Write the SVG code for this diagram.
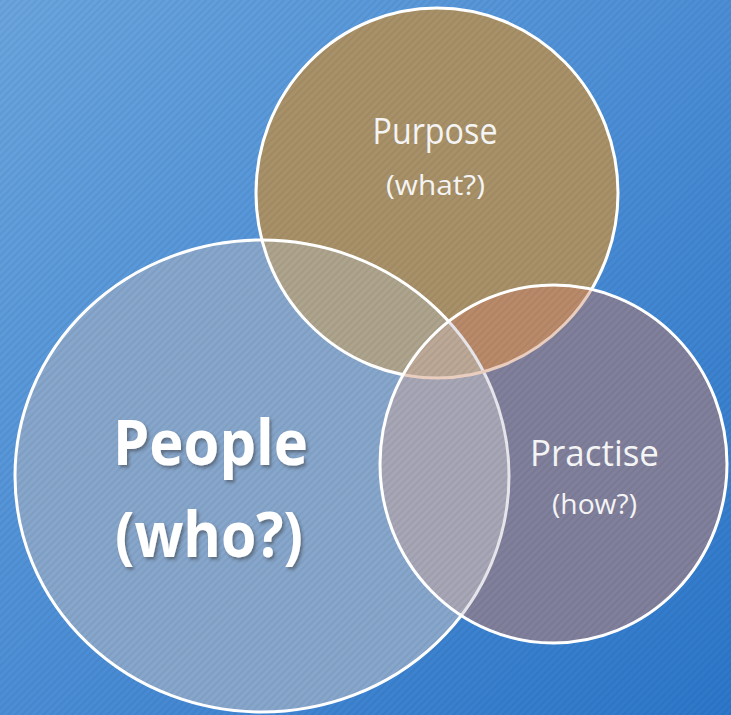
<svg xmlns="http://www.w3.org/2000/svg" width="731" height="715" viewBox="0 0 731 715">
  <defs>
    <linearGradient id="bg" x1="0" y1="0" x2="1" y2="1">
      <stop offset="0" stop-color="#6AA5DE"/>
      <stop offset="0.5" stop-color="#4C8ED6"/>
      <stop offset="1" stop-color="#2C77CA"/>
    </linearGradient>
    <pattern id="stripes" patternUnits="userSpaceOnUse" width="5" height="5" patternTransform="rotate(45)">
      <rect x="0" y="0" width="2" height="5" fill="#000" fill-opacity="0.05"/>
    </pattern>
    <ellipse id="shPeople" cx="262" cy="476" rx="247" ry="236"/>
    <ellipse id="shPurpose" cx="437" cy="193" rx="181" ry="185"/>
    <ellipse id="shPractise" cx="553.5" cy="464" rx="173.5" ry="179"/>
    <clipPath id="cpPeople"><use href="#shPeople"/></clipPath>
    <clipPath id="cpPurpose"><use href="#shPurpose"/></clipPath>
    <clipPath id="cpPractise"><use href="#shPractise"/></clipPath>
    <mask id="mOutPractise" maskUnits="userSpaceOnUse" x="0" y="0" width="731" height="715">
      <rect x="0" y="0" width="731" height="715" fill="#fff"/>
      <use href="#shPractise" fill="#000"/>
    </mask>
    <filter id="shadow" x="-10%" y="-10%" width="130%" height="140%">
      <feDropShadow dx="2" dy="2.5" stdDeviation="1.5" flood-color="#2a2a2a" flood-opacity="0.45"/>
    </filter>
    <style>
      .outline { fill: none; stroke: #fff; stroke-width: 3; }
      .lbl { font-family: "Open Sans", "Lato", sans-serif; fill: #F4F4F4; text-anchor: middle; }
      .big { font-family: "Open Sans", "Lato", sans-serif; font-weight: bold; fill: #FFFFFF; text-anchor: middle; font-size: 63px; filter: url(#shadow); }
    </style>
  </defs>

  <g id="background">
    <rect x="0" y="0" width="731" height="715" fill="url(#bg)"/>
  </g>

  <g id="regions">
    <use href="#shPeople" fill="#87A6CB"/>
    <use href="#shPurpose" fill="#A89168"/>
    <use href="#shPractise" fill="#80809C"/>
    <g clip-path="url(#cpPeople)"><use href="#shPurpose" fill="#AEA48D"/></g>
    <g clip-path="url(#cpPurpose)"><use href="#shPractise" fill="#B98A6A"/></g>
    <g clip-path="url(#cpPeople)"><use href="#shPractise" fill="#A6A6B6"/></g>
    <g clip-path="url(#cpPeople)"><g clip-path="url(#cpPurpose)"><use href="#shPractise" fill="#BCA896"/></g></g>
  </g>

  <rect id="texture" x="0" y="0" width="731" height="715" fill="url(#stripes)"/>

  <g id="connectors"/>

  <g id="people">
    <use href="#shPeople" class="outline" mask="url(#mOutPractise)"/>
    <g clip-path="url(#cpPractise)"><use href="#shPeople" class="outline" style="stroke:#E4E4EA"/></g>
    <text class="big" x="210.5" y="465" textLength="195" lengthAdjust="spacingAndGlyphs">People</text>
    <text class="big" x="209" y="557" textLength="188" lengthAdjust="spacingAndGlyphs">(who?)</text>
  </g>

  <g id="purpose">
    <use href="#shPurpose" class="outline" mask="url(#mOutPractise)"/>
    <g clip-path="url(#cpPractise)"><use href="#shPurpose" class="outline" style="stroke:#E9CDBE"/></g>
    <text class="lbl" x="435" y="144" font-size="37" textLength="125" lengthAdjust="spacingAndGlyphs">Purpose</text>
    <text class="lbl" x="435.5" y="195" font-size="27" textLength="99" lengthAdjust="spacingAndGlyphs">(what?)</text>
  </g>

  <g id="practise">
    <use href="#shPractise" class="outline"/>
    <text class="lbl" x="594.5" y="466" font-size="37" textLength="129" lengthAdjust="spacingAndGlyphs">Practise</text>
    <text class="lbl" x="594.5" y="514" font-size="27" textLength="85" lengthAdjust="spacingAndGlyphs">(how?)</text>
  </g>
</svg>
